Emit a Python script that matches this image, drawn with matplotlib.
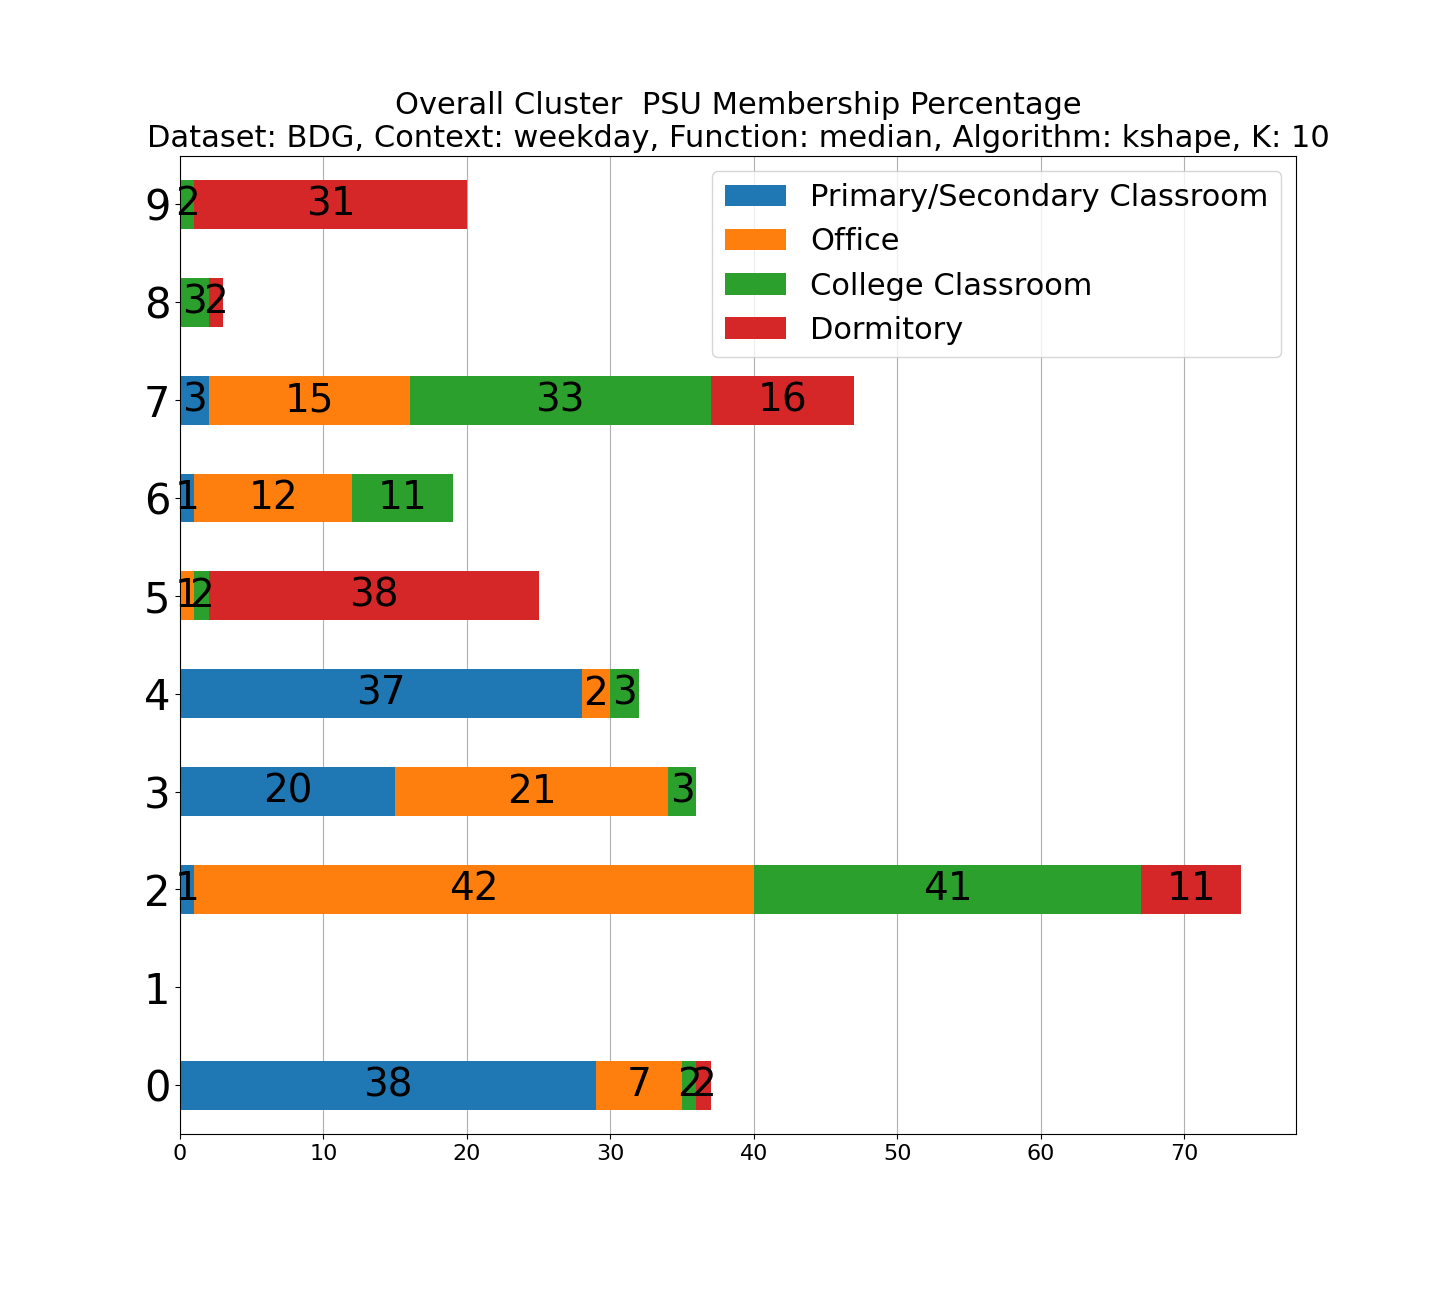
import numpy as np
import matplotlib.pyplot as plt

clusters = list(range(10))
categories = ['Primary/Secondary Classroom', 'Office', 'College Classroom', 'Dormitory']
colors = ['#1f77b4', '#ff7f0e', '#2ca02c', '#d62728']

# bar lengths (counts) per cluster 0..9
primary = [29, 0, 1, 15, 28, 0, 1, 2, 0, 0]
office = [6, 0, 39, 19, 2, 1, 11, 14, 0, 0]
college = [1, 0, 27, 2, 2, 1, 7, 21, 2, 1]
dorm = [1, 0, 7, 0, 0, 23, 0, 10, 1, 19]

# percentage labels drawn on the bars
primary_pct = [38, 0, 1, 20, 37, 0, 1, 3, 0, 0]
office_pct = [7, 0, 42, 21, 2, 1, 12, 15, 0, 0]
college_pct = [2, 0, 41, 3, 3, 2, 11, 33, 3, 2]
dorm_pct = [2, 0, 11, 0, 0, 38, 0, 16, 2, 31]

series = [primary, office, college, dorm]
pcts = [primary_pct, office_pct, college_pct, dorm_pct]

fig, ax = plt.subplots(figsize=(14.4, 12.96), dpi=100)
fig.subplots_adjust(left=0.125, right=0.9, bottom=0.125, top=0.88)
left = np.zeros(len(clusters))
for vals, pct, name, c in zip(series, pcts, categories, colors):
    vals = np.array(vals, dtype=float)
    ax.barh(clusters, vals, height=0.5, left=left, color=c, label=name, zorder=2)
    for y, (v, p, l) in enumerate(zip(vals, pct, left)):
        if v > 0:
            ax.text(l + v / 2, y, str(p), ha='center', va='center', fontsize=28, zorder=3)
    left += vals

ax.set_yticks(clusters)
ax.set_yticklabels([str(c) for c in clusters], fontsize=30)
ax.tick_params(axis='x', labelsize=16)
ax.set_xlim(0, 77.8)
ax.set_ylim(-0.5, 9.5)
ax.grid(axis='x', color='#b0b0b0', zorder=0)
ax.set_axisbelow(True)
ax.set_title('Overall Cluster  PSU Membership Percentage\n'
             'Dataset: BDG, Context: weekday, Function: median, Algorithm: kshape, K: 10',
             fontsize=22)
ax.legend(loc='upper right', fontsize=22)
fig.savefig('out.png')
